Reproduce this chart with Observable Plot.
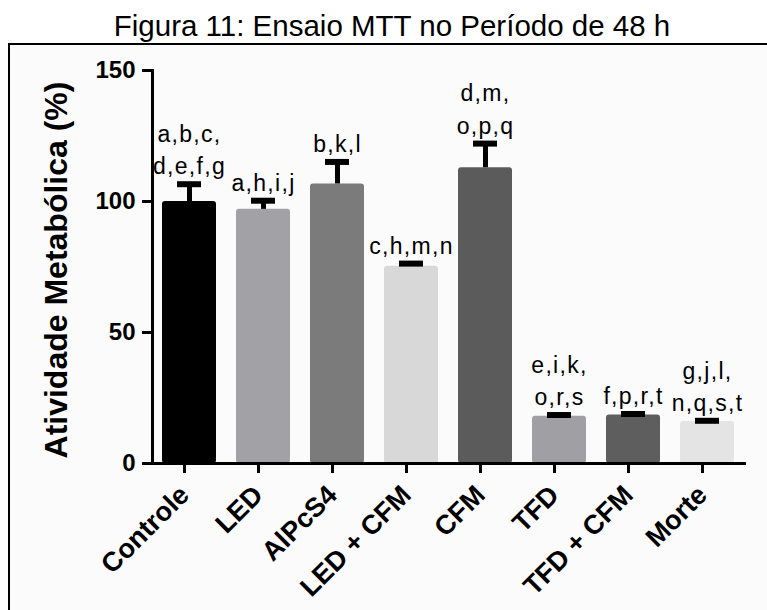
<!DOCTYPE html>
<html>
<head>
<meta charset="utf-8">
<script src="https://cdn.jsdelivr.net/npm/d3@7"></script>
<script src="https://cdn.jsdelivr.net/npm/@observablehq/plot@0.6"></script>
<style>
  html, body { margin: 0; padding: 0; background: #fff; }
  body { width: 767px; height: 610px; overflow: hidden; position: relative; font-family: "Liberation Sans", Arial, sans-serif; }
  #title { position: absolute; left: 0; top: 10px; width: 784px; text-align: center; font-size: 29.5px; line-height: 32px; color: #000; }
  #box { position: absolute; left: 8px; top: 43px; width: 800px; height: 600px; border-left: 2px solid #000; border-top: 2px solid #000; background: #fbfbfb; }
  #chart { position: absolute; left: 0; top: 46px; }
</style>
</head>
<body>
<div id="title">Figura 11: Ensaio MTT no Período de 48 h</div>
<div id="box"></div>
<div id="chart"></div>
<script>
// Treatment groups, mean metabolic activity (%) and upper error (SEM)
const groups = ["Controle", "LED", "AlPcS4", "LED + CFM", "CFM", "TFD", "TFD + CFM", "Morte"];
const means = [100, 97, 106.7, 75.3, 112.9, 18, 18.5, 16];
const errors = [6.6, 3.3, 8.4, 1.0, 9.2, 0.5, 0.4, 0.3];
// Significance letters shown above each bar
const letters = ["a,b,c,\nd,e,f,g", "a,h,i,j", "b,k,l", "c,h,m,n", "d,m,\no,p,q", "e,i,k,\no,r,s", "f,p,r,t", "g,j,l,\nn,q,s,t"];
const fills = ["#000000", "#a2a2a6", "#7b7b7b", "#d8d8d8", "#5b5b5b", "#a0a0a4", "#5e5e5e", "#e4e4e4"];
const yTicks = [0, 50, 100, 150];
const yLabel = "Atividade Metabólica (%)";

const data = groups.map((g, i) => ({
  group: g,
  mean: means[i],
  top: means[i] + errors[i],
  letters: letters[i],
  fill: fills[i]
}));

const chart = Plot.plot({
  width: 767,
  height: 564,
  marginLeft: 152,
  marginRight: 23,
  marginTop: 24,
  marginBottom: 147,
  style: { background: "transparent", fontFamily: "Liberation Sans, Arial, sans-serif", color: "#000", overflow: "visible" },
  x: { domain: groups, paddingInner: 0.27, paddingOuter: 0.135, label: null },
  y: { domain: [0, 150], label: null },
  marks: [
    Plot.barY(data, { x: "group", y: "mean", fill: "fill", rx: 3 }),
    Plot.ruleX(data, { x: "group", y1: "mean", y2: "top", stroke: "#000", strokeWidth: 5 }),
    Plot.tickY(data, { x: "group", y: "top", stroke: "#000", strokeWidth: 6, inset: 15 }),
    Plot.text(data, { x: "group", y: "top", text: "letters", lineAnchor: "bottom", dy: -10, fontSize: 23, lineHeight: 1.4, fill: "#000" }),
    Plot.frame({ anchor: "left", strokeWidth: 3, stroke: "#000" }),
    Plot.frame({ anchor: "bottom", strokeWidth: 3, stroke: "#000" }),
    Plot.axisY({ ticks: yTicks, tickSize: 10, tickPadding: 7, strokeWidth: 3, fontSize: 24, fontWeight: "bold", label: null, tickFormat: d => String(d) }),
    Plot.axisX({ tickSize: 10, tickPadding: 17, strokeWidth: 3, tickRotate: -45, fontSize: 27, fontWeight: "bold", label: null, dx: -5 }),
    Plot.text([yLabel], { frameAnchor: "left", textAnchor: "middle", rotate: -90, dx: -96, dy: 3, fontSize: 32, fontWeight: "bold", fill: "#000" })
  ]
});

// extra tracking on the significance letters
d3.select(chart).selectAll('g[aria-label="text"][font-size="23"] text').style("letter-spacing", "1.3px");

document.getElementById("chart").appendChild(chart);
</script>
</body>
</html>
